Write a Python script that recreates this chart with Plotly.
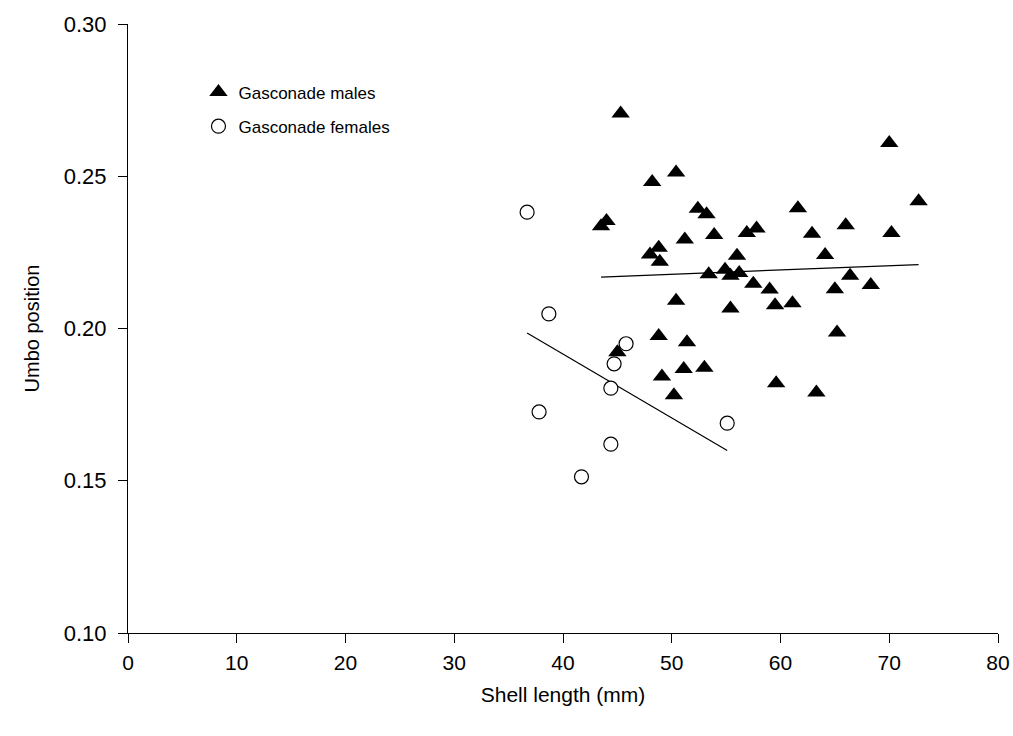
import plotly.graph_objects as go

# Gasconade males (shell length mm, umbo position)
male_x = [43.5, 44.0, 45.3, 48.2, 50.4, 52.4, 53.2, 51.2, 53.9, 56.9, 57.8, 56.0, 48.8, 48.0, 48.9,
          53.4, 54.9, 55.4, 56.2, 57.5, 50.4, 55.4, 61.6, 72.7, 62.9, 66.0, 70.2, 64.1, 66.4, 68.3,
          65.0, 59.0, 59.5, 61.1, 65.2, 59.6, 63.3, 70.0, 45.0, 48.8, 51.4, 51.1, 53.0, 49.1, 50.2]
male_y = [0.2336, 0.2353, 0.2706, 0.2481, 0.2512, 0.2393, 0.2375, 0.2292, 0.2307, 0.2314, 0.2328,
          0.2239, 0.2265, 0.2243, 0.2219, 0.2178, 0.2193, 0.2173, 0.2182, 0.2147, 0.2091, 0.2066,
          0.2395, 0.2418, 0.2311, 0.2339, 0.2314, 0.2241, 0.2173, 0.2143, 0.2129, 0.2128, 0.2076,
          0.2083, 0.1987, 0.1820, 0.1790, 0.2609, 0.1922, 0.1975, 0.1955, 0.1867, 0.1871, 0.1842,
          0.1781]

# Gasconade females
female_x = [36.7, 38.7, 45.8, 44.7, 44.4, 37.8, 44.4, 41.7, 55.1]
female_y = [0.2382, 0.2048, 0.1950, 0.1884, 0.1804, 0.1726, 0.1620, 0.1513, 0.1689]

# Regression line end points
male_fit_x = [43.5, 72.7]
male_fit_y = [0.2169, 0.2210]
female_fit_x = [36.7, 55.1]
female_fit_y = [0.1985, 0.1599]

x_ticks = [0, 10, 20, 30, 40, 50, 60, 70, 80]
y_ticks = [0.10, 0.15, 0.20, 0.25, 0.30]
y_tick_labels = ["0.10", "0.15", "0.20", "0.25", "0.30"]

FONT = "Arial, Liberation Sans, sans-serif"

fig = go.Figure()
fig.add_trace(go.Scatter(x=male_fit_x, y=male_fit_y, mode="lines",
                         line=dict(color="black", width=1.2), showlegend=False, hoverinfo="skip"))
fig.add_trace(go.Scatter(x=female_fit_x, y=female_fit_y, mode="lines",
                         line=dict(color="black", width=1.2), showlegend=False, hoverinfo="skip"))
fig.add_trace(go.Scatter(x=male_x, y=male_y, mode="markers", name="Gasconade males",
                         legendgroup="m",
                         marker=dict(symbol="triangle-up", size=16, color="black",
                                     line=dict(color="black", width=0))))
fig.add_trace(go.Scatter(x=female_x, y=female_y, mode="markers", name="Gasconade females",
                         legendgroup="f",
                         marker=dict(symbol="circle", size=14, color="white",
                                     line=dict(color="black", width=1.2))))

fig.update_layout(
    width=1013, height=736, autosize=False,
    margin=dict(l=128, r=15, t=24, b=103, pad=0, autoexpand=False),
    paper_bgcolor="white", plot_bgcolor="white",
    font=dict(family=FONT, size=17, color="black"),
    legend=dict(x=0.081, y=0.917, xanchor="left", yanchor="top",
                bgcolor="rgba(0,0,0,0)", font=dict(size=17, family=FONT),
                traceorder="grouped", tracegroupgap=9, itemwidth=30),
    xaxis=dict(range=[0, 80], tickvals=x_ticks, automargin=False,
               showgrid=False, zeroline=False, showline=True, linecolor="black", linewidth=1,
               ticks="outside", ticklen=9, tickcolor="black", tickwidth=1,
               ticklabelstandoff=2,
               tickfont=dict(size=21, family=FONT),
               title=dict(text="Shell length (mm)", font=dict(size=21, family=FONT), standoff=14)),
    yaxis=dict(range=[0.10, 0.30], tickvals=y_ticks, ticktext=y_tick_labels, automargin=False,
               showgrid=False, zeroline=False, showline=True, linecolor="black", linewidth=1,
               ticks="outside", ticklen=9, tickcolor="black", tickwidth=1,
               ticklabelstandoff=7,
               tickfont=dict(size=22, family=FONT),
               title=dict(text="Umbo position", font=dict(size=20, family=FONT), standoff=18)),
)

fig.write_html("out.html")
